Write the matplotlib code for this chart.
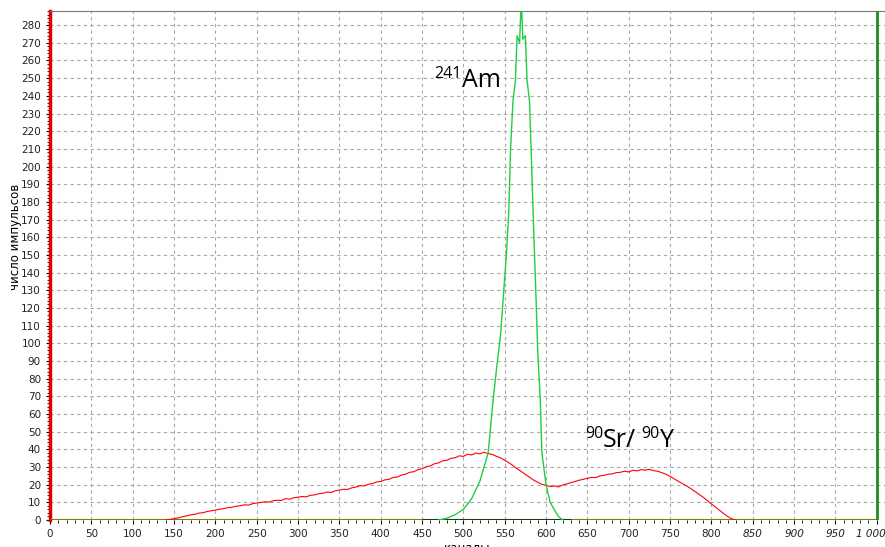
import numpy as np
import matplotlib
matplotlib.use("Agg")
import matplotlib.pyplot as plt
from matplotlib.ticker import MultipleLocator

# Sr-90/Y-90 spectrum (red), channel -> counts
sr_ch = list(range(140, 835, 5))
sr_counts = [0, 0.3, 0.8, 1.2, 1.8, 2.3, 2.9, 3.2, 3.9, 4.1, 4.8, 5.2, 5.6, 6.1, 6.4, 7.0, 7.2, 7.8,
             8.0, 8.6, 8.4, 9.2, 9.6, 9.9, 10.3, 10.1, 10.9, 11.2, 11.0, 12.1, 11.8, 12.6, 12.9,
             13.3, 13.1, 14.0, 14.2, 14.9, 15.1, 15.8, 15.6, 16.5, 16.9, 17.4, 17.3, 18.2, 18.6,
             19.4, 19.3, 20.2, 20.6, 21.5, 21.8, 22.7, 23.0, 24.1, 24.3, 25.4, 25.9, 27.0, 27.3,
             28.5, 29.0, 30.1, 30.6, 31.8, 32.3, 33.5, 33.8, 34.9, 35.2, 36.3, 36.0, 37.2, 36.8,
             37.9, 37.4, 38.3, 37.6, 37.1, 36.0, 35.2, 33.8, 32.4, 30.8, 29.0, 27.5, 25.8, 24.2,
             22.6, 21.3, 20.2, 19.6, 18.9, 19.3, 18.7, 19.8, 20.4, 21.1, 21.8, 22.5, 23.0, 23.6,
             24.1, 24.0, 24.9, 25.3, 25.9, 26.1, 26.8, 27.0, 27.6, 27.2, 28.1, 27.8, 28.5, 28.2,
             28.7, 27.9, 27.6, 26.8, 25.9, 24.7, 23.3, 21.9, 20.6, 19.3, 17.8, 16.2, 14.5, 12.9,
             11.0, 9.1, 7.3, 5.4, 3.6, 1.9, 0.6, 0]

# Am-241 peak (green)
am_ch = [470, 480, 490, 500, 510, 520, 530, 536, 540, 545, 548, 552, 555, 557, 560, 563, 565,
         568, 570, 572, 575, 577, 580, 582, 585, 588, 590, 593, 595, 600, 605, 611, 615, 620]
am_counts = [0, 1, 3, 6, 12, 22, 38, 68, 85, 105, 124, 150, 175, 209, 237, 249, 274,
             270, 295, 272, 274, 249, 237, 209, 165, 124, 95, 68, 38, 20, 10, 5, 2, 0]

x_ticks = list(range(0, 1001, 50))
x_labels = [str(v) for v in range(0, 801, 50)] + ["850", "900", "950", ""]
last_label = "1 000"

fig = plt.figure(figsize=(8.85, 5.47), dpi=100)
ax = fig.add_axes([50 / 885, 27 / 547, 835 / 885, 509 / 547])

ax.set_xlim(0, 1010)
ax.set_ylim(0, 288)

ax.grid(True, color="#a8a8a8", linestyle=(0, (3, 3)), linewidth=0.8)
ax.set_axisbelow(True)

# baseline
ax.plot([0, 1000], [0, 0], color="#808000", linewidth=2.2, zorder=3, solid_capstyle="butt")
ax.plot([450, 630], [0, 0], color="#1c3a10", linewidth=2.2, zorder=4, solid_capstyle="butt")

ax.plot(sr_ch, sr_counts, color="#ff0000", linewidth=0.8, zorder=5)
ax.plot(am_ch, am_counts, color="#22cc44", linewidth=1.0, zorder=6)

ax.axvline(1000, color="#1f8c1f", linewidth=2, zorder=6)

ax.set_xticks(x_ticks)
ax.set_xticklabels(x_labels, fontsize=7.5, color="#222222")
for lbl in ax.get_xticklabels()[-4:]:
    lbl.set_fontstyle("italic")
# last tick label sits a bit left so it stays inside the figure
ax.text(993, -0.0175, last_label, transform=ax.get_xaxis_transform(), ha="center", va="top",
        fontsize=7.5, color="#222222", fontstyle="italic")
ax.set_yticks(range(0, 281, 10))
ax.tick_params(axis="y", labelsize=7.5, labelcolor="#222222", length=3)
ax.tick_params(axis="x", length=3)
ax.xaxis.set_minor_locator(MultipleLocator(10))
ax.yaxis.set_minor_locator(MultipleLocator(2))
ax.tick_params(which="minor", length=2)

ax.spines["left"].set_color("#dd0000")
ax.spines["left"].set_linewidth(2.5)
ax.spines["top"].set_color("#777777")
ax.spines["right"].set_visible(False)
ax.spines["bottom"].set_visible(False)

ax.set_ylabel("число импульсов", fontsize=8.5)
ax.yaxis.set_label_coords(-28 / 835, 0.556)
ax.set_xlabel("каналы", fontsize=8.5, labelpad=2)

# isotope labels
big = dict(fontsize=18, family="Open Sans", va="baseline", color="black")
small = dict(fontsize=11.5, family="Open Sans", va="baseline", color="black")
ax.text(465, 250, "241", **small)
ax.text(498, 245, "Am", **big)
ax.text(647, 46.5, "90", **small)
ax.text(669, 41.3, "Sr/", **big)
ax.text(715, 46.5, "90", **small)
ax.text(738, 41.3, "Y", **big)

fig.savefig("out.png", dpi=100)
